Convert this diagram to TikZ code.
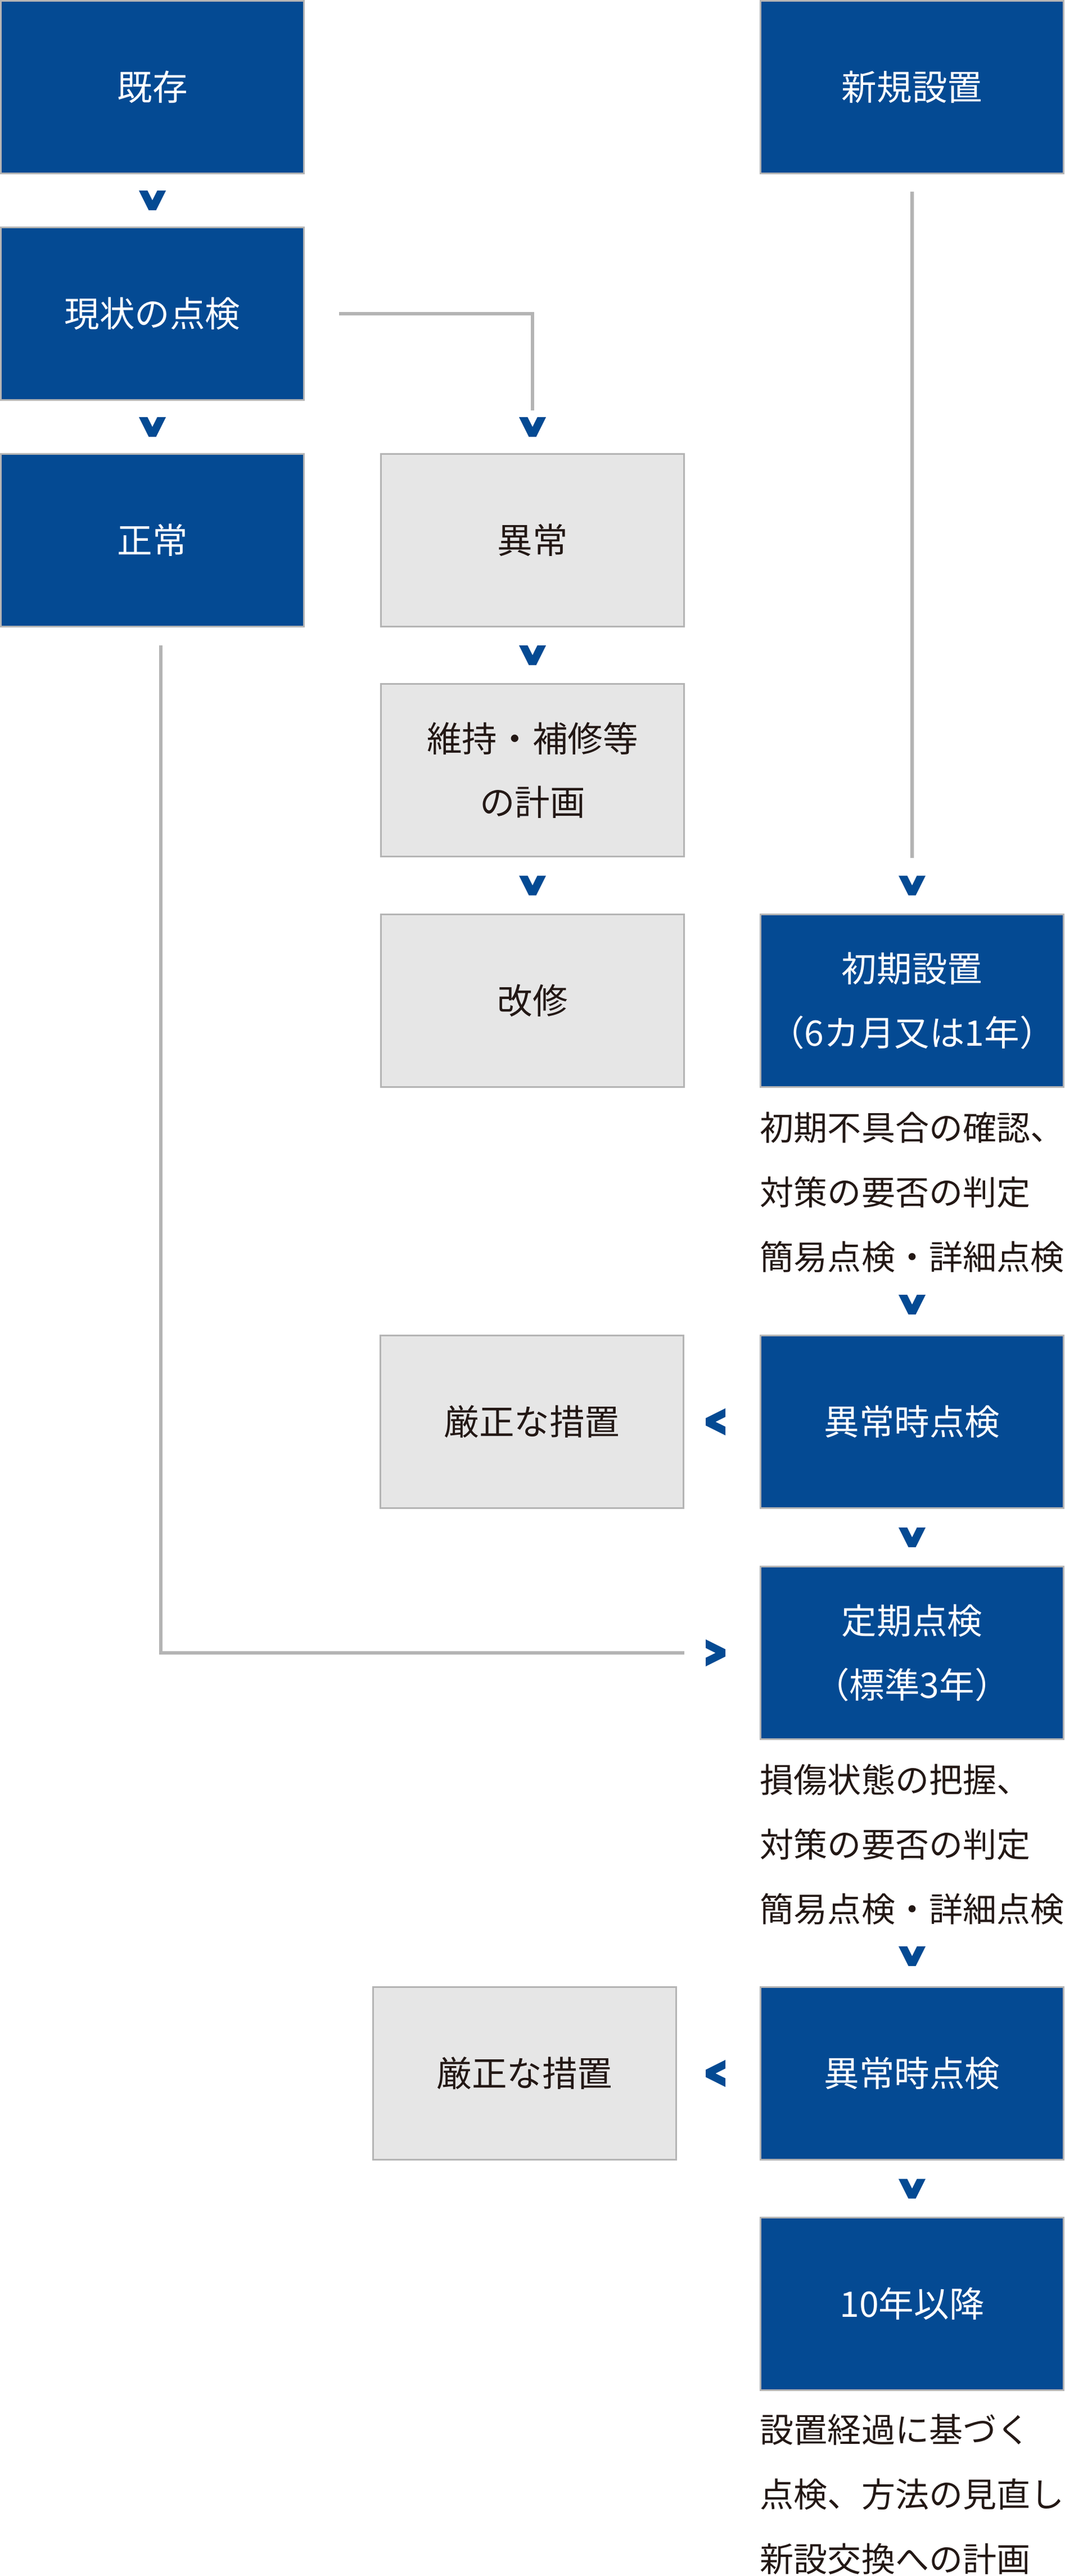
\documentclass[tikz,border=0pt]{standalone}
\usepackage{fontspec}
\setmainfont{Noto Sans CJK JP}
\usepackage{xcolor}
\usepackage{tikz}
\usetikzlibrary{positioning}
\definecolor{boxblue}{RGB}{4,74,147}
\definecolor{boxgray}{RGB}{230,230,230}
\definecolor{rulegray}{RGB}{180,180,180}
\definecolor{inkdark}{RGB}{35,24,21}
\newcommand\boxfont{\fontsize{17.8pt}{32.3pt}\selectfont}
\newcommand\notefont{\fontsize{17.1pt}{32.7pt}\selectfont}
\newcommand\chevshape[1]{\fill[boxblue, shift={(path picture bounding box.center)}] #1 -- cycle;}

\begin{document}
\begin{tikzpicture}

\tikzstyle{bluebox} = [draw=rulegray, fill=boxblue, line width=0.03cm, minimum width=5.39cm, minimum height=3.07cm, inner sep=0pt, align=center, text=white, font=\boxfont]
\tikzstyle{graybox} = [bluebox, fill=boxgray, text=inkdark]
\tikzstyle{note} = [align=left, inner sep=0pt, text=inkdark, font=\notefont]
\tikzstyle{link} = [draw=rulegray, line width=0.065cm]
\tikzstyle{vdown} = [minimum size=0.6cm, inner sep=0pt, path picture={\chevshape{(-0.24,0.175) -- (-0.087,0.175) -- (0,0) -- (0.087,0.175) -- (0.24,0.175) -- (0.065,-0.175) -- (-0.065,-0.175)}}]
\tikzstyle{vleft} = [minimum size=0.6cm, inner sep=0pt, path picture={\chevshape{(0.175,0.24) -- (0.175,0.087) -- (0,0) -- (0.175,-0.087) -- (0.175,-0.24) -- (-0.175,-0.065) -- (-0.175,0.065)}}]
\tikzstyle{vright} = [minimum size=0.6cm, inner sep=0pt, path picture={\chevshape{(-0.175,-0.24) -- (-0.175,-0.087) -- (0,0) -- (-0.175,0.087) -- (-0.175,0.24) -- (0.175,0.065) -- (0.175,-0.065)}}]

\useasboundingbox (0,0) rectangle (18.93,-45.82);

\node [bluebox] (kison) at (2.71,-1.55) {既存};
\node [bluebox, right = 8.09cm of kison] (shinki) {新規設置};
\node [bluebox, below = 0.93cm of kison] (genjo) {現状の点検};
\node [bluebox, below = 0.93cm of genjo] (seijo) {正常};
\node [graybox, right = 1.34cm of seijo] (ijo) {異常};
\node [graybox, below = 0.99cm of ijo] (iji) {維持・補修等\\の計画};
\node [graybox, below = 1.00cm of iji] (kaishu) {改修};
\node [bluebox, right = 1.33cm of kaishu] (shoki) {初期設置\\（6カ月又は1年）};
\node [note, below = 3.23cm of shoki.south west, anchor=base west] (note1) {初期不具合の確認、\\対策の要否の判定\\簡易点検・詳細点検};
\node [bluebox, below = 4.39cm of shoki] (ijoji1) {異常時点検};
\node [graybox, left = 1.34cm of ijoji1] (kenzen1) {厳正な措置};
\node [bluebox, below = 1.01cm of ijoji1] (teiki) {定期点検\\（標準3年）};
\node [note, below = 3.23cm of teiki.south west, anchor=base west] (note2) {損傷状態の把握、\\対策の要否の判定\\簡易点検・詳細点検};
\node [bluebox, below = 4.38cm of teiki] (ijoji2) {異常時点検};
\node [graybox, left = 1.47cm of ijoji2] (kenzen2) {厳正な措置};
\node [bluebox, below = 1.00cm of ijoji2] (junen) {10年以降};
\node [note, below = 3.21cm of junen.south west, anchor=base west] (note3) {設置経過に基づく\\点検、方法の見直し\\新設交換への計画};

\draw [link] ([xshift=0.61cm]genjo.east) -| ([yshift=0.76cm]ijo.north);
\draw [link] ([yshift=-0.31cm]shinki.south) -- ([yshift=0.99cm]shoki.north);
\draw [link] ([xshift=0.15cm,yshift=-0.32cm]seijo.south) |- ([xshift=-1.34cm]teiki.west);

\path (kison) -- node[vdown] (v1) {} (genjo);
\path (genjo) -- node[vdown] (v2) {} (seijo);
\node [vdown] (v3) at (ijo.north |- v2) {};
\path (ijo) -- node[vdown] (v4) {} (iji);
\path (iji) -- node[vdown] (v5) {} (kaishu);
\node [vdown] (v6) at (shoki.north |- v5) {};
\node [vdown] (v7) at ([yshift=0.535cm]ijoji1.north) {};
\node [vleft] (v8) at ([xshift=-0.785cm]ijoji1.west) {};
\path (ijoji1) -- node[vdown] (v9) {} (teiki);
\node [vright] (v10) at ([xshift=-0.785cm]teiki.west) {};
\node [vdown] (v11) at ([yshift=0.535cm]ijoji2.north) {};
\node [vleft] (v12) at ([xshift=-0.785cm]ijoji2.west) {};
\path (ijoji2) -- node[vdown] (v13) {} (junen);
\end{tikzpicture}
\end{document}
